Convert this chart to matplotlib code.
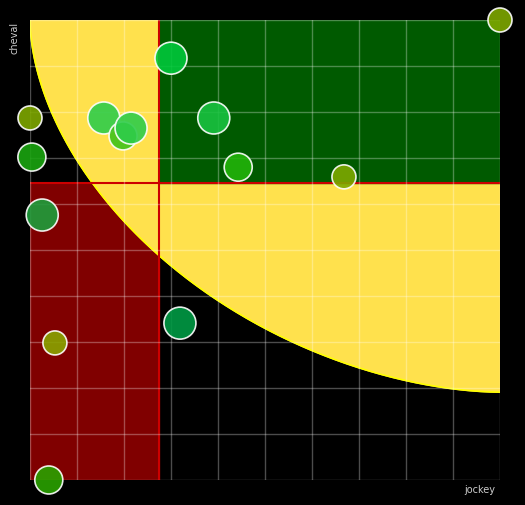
import matplotlib.pyplot as plt
import numpy as np
from matplotlib.patches import Rectangle

# points: jockey score, cheval score, radius(px), colour
jockey = [10.0, 3.0, 0.0, 1.57, 1.98, 2.15, 3.91, 4.43, 6.68, 0.04, 0.26, 3.19, 0.53, 0.40]
cheval = [10.0, 9.17, 7.87, 7.87, 7.48, 7.65, 7.87, 6.80, 6.59, 7.02, 5.76, 3.41, 2.98, 0.0]
radius = [12, 16, 12, 16, 14, 16, 16, 14, 12, 14, 16, 16, 12, 14]
colors = ["#7ea800", "#00c83a", "#7ea800", "#2ecc4a", "#3fc21a", "#2ecc4a", "#19c240",
          "#22b40a", "#7ea800", "#1aa510", "#1e9e3c", "#009a44", "#8aa400", "#2aa200"]
x_cut, y_cut = 2.74, 6.46

fig = plt.figure(figsize=(5.25, 5.05), dpi=100, facecolor="black")
ax = fig.add_axes([30 / 525, 25 / 505, 470 / 525, 460 / 505])
ax.set_facecolor("black")
ax.set_xlim(0, 10)
ax.set_ylim(0, 10)

ax.add_patch(Rectangle((0, 0), x_cut, y_cut, color="#800000", zorder=1))

# yellow band outside a super-ellipse centred at the top-right corner
n = 1.8
t = np.linspace(0, np.pi / 2, 300)
ex = 10 - 10 * np.cos(t) ** (2 / n)
ey = 10 - 8.09 * np.sin(t) ** (2 / n)
px = np.concatenate([ex, [10, 0]])
py = np.concatenate([ey, [10, 10]])
ax.fill(px, py, color="#ffe14d", zorder=2)
ax.plot(ex, ey, color="yellow", lw=1.2, zorder=2)

ax.add_patch(Rectangle((x_cut, y_cut), 10 - x_cut, 10 - y_cut, color="#005a00", zorder=3))
ax.axvline(x_cut, ymax=1, color="#cc0000", lw=1.5, zorder=4)
ax.axhline(y_cut, color="#cc0000", lw=1.5, zorder=4)

for v in range(11):
    ax.axvline(v, color="white", alpha=0.3, lw=1, zorder=5)
    ax.axhline(v, color="white", alpha=0.3, lw=1, zorder=5)

sizes = [(2 * r * 72 / 100) ** 2 for r in radius]
ax.scatter(jockey, cheval, s=sizes, c=colors, edgecolors="white", linewidths=1.2,
           alpha=0.9, zorder=6, clip_on=False)

for s in ax.spines.values():
    s.set_visible(False)
ax.set_xticks([])
ax.set_yticks([])
fig.text(15 / 525, 1 - 38 / 505, "cheval", color="#cccccc", fontsize=7, rotation=90,
         ha="center", va="center")
fig.text(480 / 525, 1 - 490 / 505, "jockey", color="#cccccc", fontsize=7,
         ha="center", va="center")

fig.savefig("out.png", dpi=100, facecolor="black")
